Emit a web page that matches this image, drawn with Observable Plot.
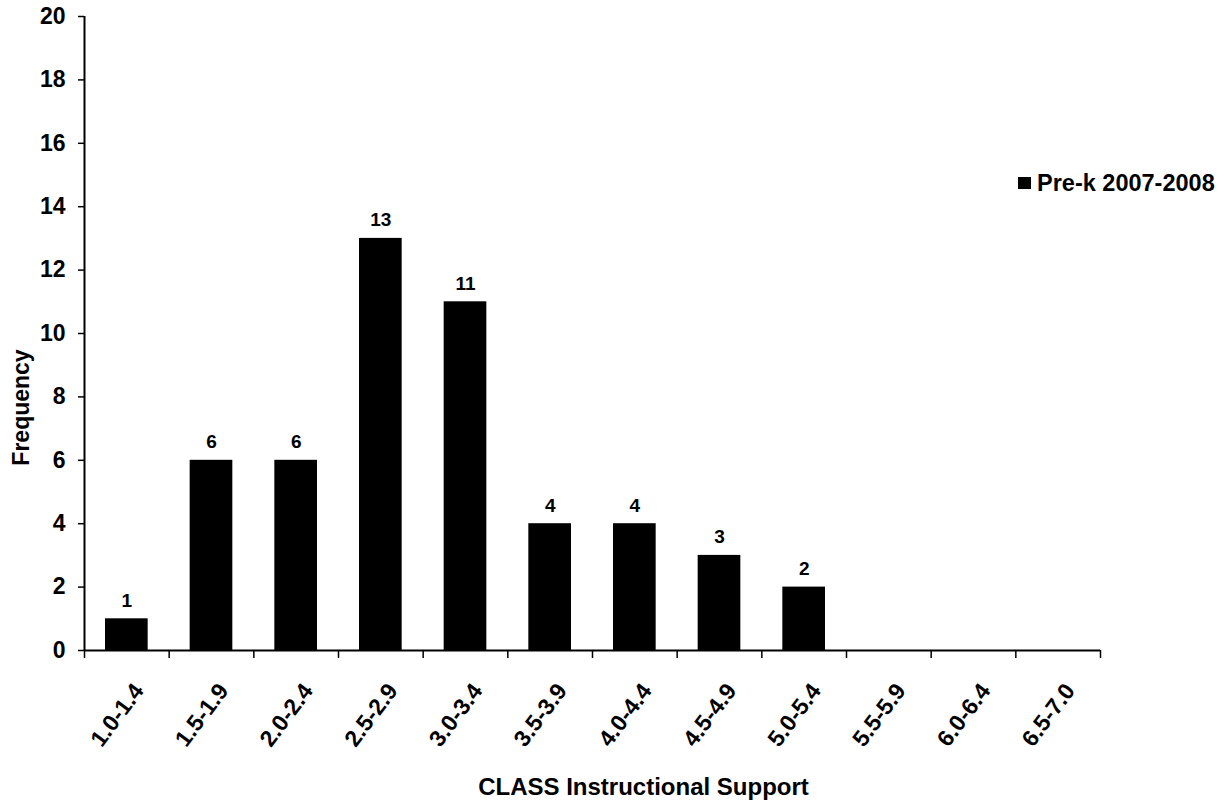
<!DOCTYPE html>
<html>
<head>
<meta charset="utf-8">
<script src="https://cdn.jsdelivr.net/npm/d3@7"></script>
<script src="https://cdn.jsdelivr.net/npm/@observablehq/plot@0.6"></script>
<style>
  html, body { margin: 0; padding: 0; background: #fff; }
  #wrap { position: relative; width: 1228px; height: 804px; font-family: "Liberation Sans", Arial, sans-serif; font-weight: bold; color: #000; }
  #legend-swatch { position: absolute; left: 1018px; top: 177px; width: 13px; height: 12px; background: #000; }
  #legend-text { position: absolute; left: 1037px; top: 172px; font-size: 23.5px; line-height: 23px; white-space: nowrap; }
</style>
</head>
<body>
<div id="wrap"></div>
<script>
const categories = ["1.0-1.4","1.5-1.9","2.0-2.4","2.5-2.9","3.0-3.4","3.5-3.9","4.0-4.4","4.5-4.9","5.0-5.4","5.5-5.9","6.0-6.4","6.5-7.0"];
const frequencies = [1, 6, 6, 13, 11, 4, 4, 3, 2, 0, 0, 0];
const yTicks = [0, 2, 4, 6, 8, 10, 12, 14, 16, 18, 20];
const seriesName = "Pre-k 2007-2008";
const xTitle = "CLASS Instructional Support";
const yTitle = "Frequency";

const rows = categories.map((c, i) => ({i, c, f: frequencies[i]}));
const nonzero = rows.filter(d => d.f > 0);
const edges = d3.range(categories.length + 1);

const chart = Plot.plot({
  width: 1228,
  height: 804,
  marginLeft: 84,
  marginRight: 128,
  marginTop: 16,
  marginBottom: 154,
  style: {fontFamily: "'Liberation Sans', Arial, sans-serif", fontWeight: "bold", fontSize: "23px", color: "#000", background: "#fff"},
  x: {type: "linear", domain: [0, categories.length], axis: null},
  y: {domain: [0, 20], axis: null},
  marks: [
    Plot.rectY(nonzero, {x1: "i", x2: d => d.i + 1, y: "f", fill: "#000", insetLeft: 21, insetRight: 21}),
    Plot.axisY({ticks: yTicks, tickSize: 6, tickPadding: 13, label: null, tickFormat: d => String(d), strokeWidth: 1.5, fontSize: 23}),
    Plot.axisX({ticks: edges, tickSize: 8, tickFormat: () => "", label: null, strokeWidth: 1.5}),
    Plot.ruleX([0], {strokeWidth: 2}),
    Plot.ruleY([0], {strokeWidth: 2}),
    Plot.text(rows, {x: d => d.i + 0.5, text: "c", frameAnchor: "bottom", rotate: -53, textAnchor: "end", lineAnchor: "middle", dx: 12, dy: 36, fontSize: 23}),
    Plot.text(nonzero, {x: d => d.i + 0.5, y: "f", text: d => String(d.f), lineAnchor: "bottom", dy: -12, fontSize: 19}),
    Plot.text([yTitle], {text: d => d, frameAnchor: "left", rotate: -90, textAnchor: "middle", lineAnchor: "middle", dx: -63, dy: 74, fontSize: 23}),
    Plot.text([xTitle], {text: d => d, frameAnchor: "bottom", textAnchor: "middle", lineAnchor: "bottom", dx: 51, dy: 144, fontSize: 24})
  ]
});

const wrap = document.getElementById("wrap");
wrap.appendChild(chart);
const sw = document.createElement("div");
sw.id = "legend-swatch";
wrap.appendChild(sw);
const lt = document.createElement("div");
lt.id = "legend-text";
lt.textContent = seriesName;
wrap.appendChild(lt);
</script>
</body>
</html>
